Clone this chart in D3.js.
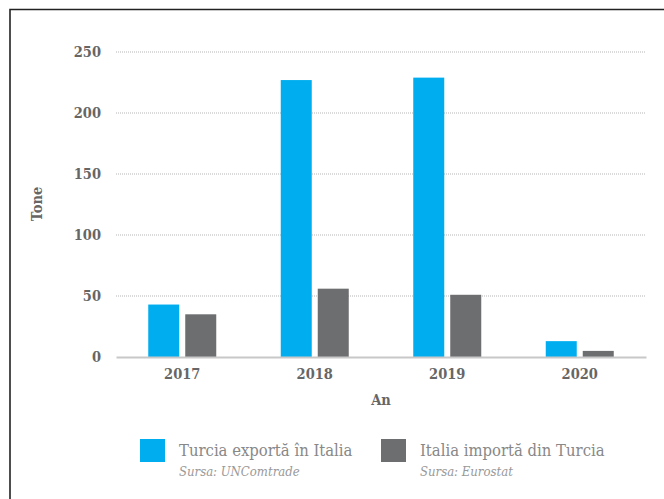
<!DOCTYPE html>
<html>
<head>
<meta charset="utf-8">
<script src="https://cdn.jsdelivr.net/npm/d3@7"></script>
<style>
  body { margin: 0; background: #fff; }
  svg { display: block; }
</style>
</head>
<body>
<svg width="664" height="499"></svg>
<script>
// date
var ani = ["2017", "2018", "2019", "2020"];
var exportTurcia = [43, 227, 229, 13];   // Turcia exporta in Italia
var importItalia = [35, 56, 51, 5];      // Italia importa din Turcia
var yTicks = [0, 50, 100, 150, 200, 250];
var serii = ["Turcia exportă în Italia", "Italia importă din Turcia"];
var surse = ["Sursa: UNComtrade", "Sursa: Eurostat"];
var culori = ["#00aeef", "#6d6e70"];

var font = "'Roboto Slab', 'DejaVu Serif Condensed', 'DejaVu Serif', serif";
var svg = d3.select("svg");

// rama
svg.append("path")
  .attr("d", "M10,499 L10,9.5 L664,9.5")
  .style("fill", "none")
  .style("stroke", "#222")
  .style("stroke-width", 1.6);

var x = d3.scaleBand().domain(ani).range([116, 646]);
var y = d3.scaleLinear().domain([0, 250]).range([357, 52]);
var latime = 31, spatiu = 6;

// grila
svg.append("g")
  .selectAll("line")
  .data(yTicks.filter(d => d > 0))
  .enter().append("line")
  .attr("x1", 116).attr("x2", 646)
  .attr("y1", d => y(d)).attr("y2", d => y(d))
  .style("stroke", "#b5b5b5")
  .style("stroke-width", 1)
  .style("stroke-dasharray", "1,1");

// axa y
var axaY = svg.append("g")
  .attr("transform", "translate(116,0)")
  .call(d3.axisLeft(y).tickValues(yTicks).tickSize(0).tickPadding(15));
axaY.select(".domain").remove();
axaY.selectAll("text")
  .attr("font-family", font)
  .attr("font-weight", "bold")
  .attr("font-size", 14.5)
  .attr("fill", "#666");

// bare
var date = ani.map((a, i) => ({an: a, v: [exportTurcia[i], importItalia[i]]}));
date.forEach(function(d) {
  var c = x(d.an) + x.bandwidth() / 2;
  d.v.forEach(function(v, j) {
    svg.append("rect")
      .attr("x", j == 0 ? c - spatiu / 2 - latime : c + spatiu / 2)
      .attr("y", y(v))
      .attr("width", latime)
      .attr("height", y(0) - y(v))
      .style("fill", culori[j]);
  });
});

// axa x
var axaX = svg.append("g")
  .attr("transform", "translate(0,357)")
  .call(d3.axisBottom(x).tickSize(0).tickPadding(12));
axaX.select(".domain")
  .style("stroke", "#c8c8c8")
  .style("stroke-width", 2);
axaX.selectAll("text")
  .attr("font-family", font)
  .attr("font-weight", "bold")
  .attr("font-size", 14.5)
  .attr("fill", "#666");

// titluri axe
svg.append("text")
  .attr("x", 381).attr("y", 405)
  .attr("text-anchor", "middle")
  .attr("font-family", font)
  .attr("font-weight", "bold")
  .attr("font-size", 14.5)
  .attr("fill", "#666")
  .text("An");
svg.append("text")
  .attr("transform", "translate(42,204) rotate(-90)")
  .attr("text-anchor", "middle")
  .attr("font-family", font)
  .attr("font-weight", "bold")
  .attr("font-size", 14.5)
  .attr("fill", "#666")
  .text("Tone");

// legenda
var legX = [140, 381];
serii.forEach(function(s, i) {
  svg.append("rect")
    .attr("x", legX[i]).attr("y", 439)
    .attr("width", 25).attr("height", 23)
    .style("fill", culori[i]);
  svg.append("text")
    .attr("x", legX[i] + 39).attr("y", 456)
    .attr("font-family", font)
    .attr("font-weight", 300)
    .attr("font-size", 16.5)
    .attr("fill", "#888")
    .text(s);
  svg.append("text")
    .attr("x", legX[i] + 39).attr("y", 476)
    .attr("font-family", font)
    .attr("font-style", "italic")
    .attr("font-weight", 300)
    .attr("font-size", 13)
    .attr("fill", "#999")
    .text(surse[i]);
});
</script>
</body>
</html>
